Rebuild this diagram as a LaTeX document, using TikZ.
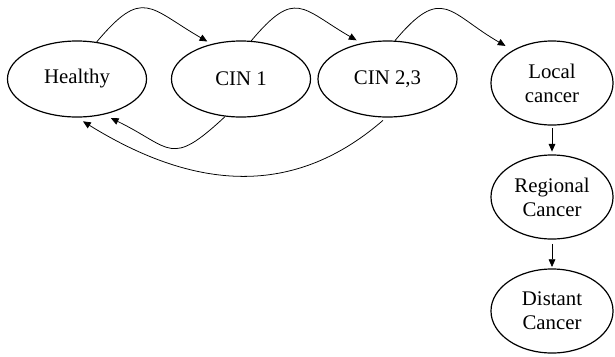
\documentclass[tikz,border=0pt]{standalone}
\usepackage{fontspec}
\setmainfont{Liberation Serif}
\usetikzlibrary{shapes.geometric,arrows.meta}
\tikzset{
  phase/.style={draw,ellipse,line width=0.85pt,inner sep=0pt,minimum width=3.475cm,minimum height=1.9cm,font=\fontsize{14.8}{17}\selectfont},
  spread/.style={phase,align=center,minimum width=3.05cm,minimum height=2.1cm},
  fwd/.style={out=50,in=150,looseness=1.6}
}
\begin{document}
\begin{tikzpicture}[x=0.025cm,y=-0.025cm,>={Triangle[length=5.5pt,width=4.8pt]},line width=0.55pt]
  \useasboundingbox (0,0) rectangle (615,356);
  % stages
  \node[phase] (healthy) at (77,79) {Healthy};
  \node[phase] (cin1) at (241,79) {CIN 1};
  \node[phase] (cin23) at (387.5,79) {CIN 2,3};
  \node[spread] (local) at (552,83) {Local\\cancer};
  \node[spread] (regional) at (552,197) {Regional\\Cancer};
  \node[spread] (distant) at (552,311) {Distant\\Cancer};
  % progression
  \draw[->,shorten >=3.5pt] (healthy.62) to[fwd] (cin1.130);
  \draw[->,shorten >=4pt] (cin1.75) to[fwd] (cin23.126);
  \draw[->,shorten >=6pt] (cin23.79) to[fwd] (local.140);
  \draw[->,shorten <=2pt,shorten >=2pt] (local) -- (regional);
  \draw[->,shorten <=3pt,shorten >=1pt] (regional) -- (distant);
  % regression
  \draw[->,shorten >=5.5pt] (cin1.247) to[out=223,in=-26,looseness=1.6] (healthy.-53);
  \draw[->,shorten <=3pt,shorten >=5pt] (cin23.-92) .. controls (305,188) and (210,200) .. (healthy.-90);
\end{tikzpicture}
\end{document}
